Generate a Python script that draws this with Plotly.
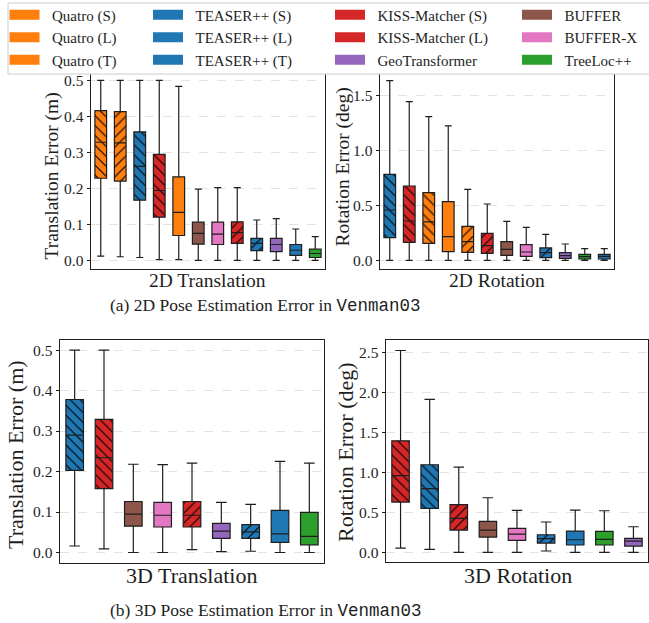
import plotly.graph_objects as go

# ---------------- data ----------------
colors = {
    "Quatro (S)": "#ff7f0e", "Quatro (L)": "#ff7f0e", "Quatro (T)": "#ff7f0e",
    "TEASER++ (S)": "#1f77b4", "TEASER++ (L)": "#1f77b4", "TEASER++ (T)": "#1f77b4",
    "KISS-Matcher (S)": "#d62728", "KISS-Matcher (L)": "#d62728",
    "GeoTransformer": "#9467bd", "BUFFER": "#8c564b", "BUFFER-X": "#e377c2",
    "TreeLoc++": "#2ca02c",
}
legend_cols = [
    ["Quatro (S)", "Quatro (L)", "Quatro (T)"],
    ["TEASER++ (S)", "TEASER++ (L)", "TEASER++ (T)"],
    ["KISS-Matcher (S)", "KISS-Matcher (L)", "GeoTransformer"],
    ["BUFFER", "BUFFER-X", "TreeLoc++"],
]

# 2D translation
m_2dt = ["Quatro (S)", "Quatro (L)", "TEASER++ (S)", "KISS-Matcher (S)", "Quatro (T)", "BUFFER",
         "BUFFER-X", "KISS-Matcher (L)", "TEASER++ (L)", "GeoTransformer", "TEASER++ (T)", "TreeLoc++"]
lo_2dt = [0.012, 0.010, 0.008, 0.002, 0.002, 0.0, 0.0, 0.0, 0.0, 0.0, 0.0, 0.0]
q1_2dt = [0.228, 0.220, 0.167, 0.120, 0.069, 0.045, 0.044, 0.047, 0.027, 0.024, 0.014, 0.008]
md_2dt = [0.328, 0.326, 0.261, 0.194, 0.133, 0.075, 0.073, 0.077, 0.047, 0.044, 0.028, 0.019]
q3_2dt = [0.416, 0.413, 0.357, 0.294, 0.232, 0.106, 0.106, 0.107, 0.061, 0.061, 0.044, 0.031]
hi_2dt = [0.500, 0.500, 0.500, 0.500, 0.483, 0.198, 0.202, 0.202, 0.112, 0.116, 0.087, 0.066]

# 2D rotation
m_2dr = ["TEASER++ (S)", "KISS-Matcher (S)", "Quatro (S)", "Quatro (T)", "Quatro (L)", "KISS-Matcher (L)",
         "BUFFER", "BUFFER-X", "TEASER++ (L)", "GeoTransformer", "TreeLoc++", "TEASER++ (T)"]
lo_2dr = [0.0] * 12
q1_2dr = [0.207, 0.164, 0.155, 0.079, 0.073, 0.064, 0.046, 0.037, 0.024, 0.018, 0.012, 0.012]
md_2dr = [0.459, 0.359, 0.350, 0.216, 0.170, 0.134, 0.100, 0.076, 0.070, 0.043, 0.033, 0.036]
q3_2dr = [0.785, 0.678, 0.618, 0.535, 0.310, 0.246, 0.170, 0.143, 0.113, 0.070, 0.055, 0.055]
hi_2dr = [1.640, 1.448, 1.311, 1.226, 0.648, 0.514, 0.356, 0.301, 0.237, 0.149, 0.106, 0.106]

# 3D translation
m_3dt = ["TEASER++ (S)", "KISS-Matcher (S)", "BUFFER", "BUFFER-X", "KISS-Matcher (L)", "GeoTransformer",
         "TEASER++ (L)", "TEASER++ (T)", "TreeLoc++"]
lo_3dt = [0.016, 0.009, 0.0, 0.0, 0.007, 0.002, 0.003, 0.0, 0.0]
q1_3dt = [0.203, 0.158, 0.065, 0.063, 0.063, 0.035, 0.035, 0.025, 0.019]
md_3dt = [0.290, 0.234, 0.095, 0.092, 0.092, 0.053, 0.051, 0.046, 0.040]
q3_3dt = [0.378, 0.329, 0.126, 0.124, 0.126, 0.072, 0.069, 0.104, 0.099]
hi_3dt = [0.500, 0.500, 0.218, 0.217, 0.221, 0.124, 0.119, 0.225, 0.221]

# 3D rotation
m_3dr = ["KISS-Matcher (S)", "TEASER++ (S)", "KISS-Matcher (L)", "BUFFER", "BUFFER-X", "TEASER++ (L)",
         "TEASER++ (T)", "TreeLoc++", "GeoTransformer"]
lo_3dr = [0.054, 0.037, 0.0, 0.0, 0.0, 0.017, 0.0, 0.0, 0.0]
q1_3dr = [0.628, 0.549, 0.279, 0.191, 0.150, 0.116, 0.092, 0.092, 0.079]
md_3dr = [0.957, 0.795, 0.424, 0.279, 0.229, 0.171, 0.158, 0.162, 0.141]
q3_3dr = [1.393, 1.094, 0.595, 0.387, 0.300, 0.220, 0.266, 0.262, 0.175]
hi_3dr = [2.520, 1.909, 1.065, 0.682, 0.524, 0.379, 0.528, 0.520, 0.320]

panels = [
    dict(m=m_2dt, lo=lo_2dt, q1=q1_2dt, md=md_2dt, q3=q3_2dt, hi=hi_2dt, ax="", title="2D Translation",
         ytitle="Translation Error (m)", ticks=[0.0, 0.1, 0.2, 0.3, 0.4, 0.5], yr=[-0.024, 0.523],
         dom_x=[91, 325], dom_y=[72, 269], fs=19.5, xt=(207.5, 280), yt=(52, 176.5)),
    dict(m=m_2dr, lo=lo_2dr, q1=q1_2dr, md=md_2dr, q3=q3_2dr, hi=hi_2dr, ax="2", title="2D Rotation",
         ytitle="Rotation Error (deg)", ticks=[0.0, 0.5, 1.0, 1.5], yr=[-0.079, 1.718],
         dom_x=[380, 614], dom_y=[72, 269], fs=19.5, xt=(496.5, 280), yt=(343, 167.5)),
    dict(m=m_3dt, lo=lo_3dt, q1=q1_3dt, md=md_3dt, q3=q3_3dt, hi=hi_3dt, ax="3", title="3D Translation",
         ytitle="Translation Error (m)", ticks=[0.0, 0.1, 0.2, 0.3, 0.4, 0.5], yr=[-0.026, 0.525],
         dom_x=[60, 324], dom_y=[340, 563], fs=22, xt=(191.5, 575), yt=(15, 455)),
    dict(m=m_3dr, lo=lo_3dr, q1=q1_3dr, md=md_3dr, q3=q3_3dr, hi=hi_3dr, ax="4", title="3D Rotation",
         ytitle="Rotation Error (deg)", ticks=[0.0, 0.5, 1.0, 1.5, 2.0, 2.5], yr=[-0.12, 2.651],
         dom_x=[386, 648], dom_y=[340, 562], fs=22, xt=(517.5, 575), yt=(345, 452)),
]

W, H = 649, 623
SERIF = "Liberation Serif"
INK = "#1e1e1e"


def hatch(name):
    if name.endswith("(S)"):
        return "\\"
    if name.endswith("(L)"):
        return "/"
    return ""


fig = go.Figure()
layout = {}
annotations = []
for p in panels:
    n = len(p["m"])
    xa, ya = "x" + p["ax"], "y" + p["ax"]
    # box bodies (fill + hatch), one bar per method so each keeps its own pattern colours
    for i, m in enumerate(p["m"]):
        fig.add_trace(go.Bar(
            x=[i], y=[p["q3"][i] - p["q1"][i]], base=[p["q1"][i]], width=0.6,
            marker=dict(color=colors[m], line=dict(width=0),
                        pattern=dict(shape=hatch(m), fillmode="replace", bgcolor=colors[m],
                                     fgcolor="black", fgopacity=1, size=7, solidity=0.16)),
            xaxis=xa, yaxis=ya, showlegend=False, hoverinfo="skip"))
    fig.add_trace(go.Box(
        x=list(range(n)), q1=p["q1"], median=p["md"], q3=p["q3"], lowerfence=p["lo"], upperfence=p["hi"],
        width=0.6, whiskerwidth=0.6, fillcolor="rgba(0,0,0,0)", line=dict(color=INK, width=1.2),
        boxpoints=False, xaxis=xa, yaxis=ya, showlegend=False, hoverinfo="skip"))
    layout["xaxis" + p["ax"]] = dict(
        domain=[p["dom_x"][0] / W, p["dom_x"][1] / W], anchor=ya, range=[-0.5, n - 0.5],
        showticklabels=False, ticks="", showgrid=False, zeroline=False, automargin=False,
        showline=True, mirror=True, linecolor=INK, linewidth=1)
    layout["yaxis" + p["ax"]] = dict(
        domain=[1 - p["dom_y"][1] / H, 1 - p["dom_y"][0] / H], anchor=xa, range=p["yr"],
        tickvals=p["ticks"], tickformat=".1f", ticks="outside", ticklen=3.5, tickcolor=INK,
        tickfont=dict(family=SERIF, size=15.5, color=INK), automargin=False,
        showgrid=True, gridcolor="#e3e3e3", griddash="dash", gridwidth=1, zeroline=False,
        showline=True, mirror=True, linecolor=INK, linewidth=1)
    annotations.append(dict(text=p["title"], x=p["xt"][0] / W, y=1 - p["xt"][1] / H,
                            xref="paper", yref="paper", showarrow=False, xanchor="center",
                            yanchor="middle", font=dict(family=SERIF, size=p["fs"], color=INK)))
    annotations.append(dict(text=p["ytitle"], x=p["yt"][0] / W, y=1 - p["yt"][1] / H, textangle=-90,
                            xref="paper", yref="paper", showarrow=False, xanchor="center",
                            yanchor="middle", font=dict(family=SERIF, size=p["fs"], color=INK)))

# legend-only entries in four columns
legend_x = [4.5, 148, 330, 517]
for ci, col in enumerate(legend_cols):
    lname = "legend" if ci == 0 else "legend%d" % (ci + 1)
    for name in col:
        fig.add_trace(go.Scatter(x=[None], y=[None], mode="lines", name="\u00a0\u00a0" + name,
                                 line=dict(color=colors[name], width=10),
                                 legend=lname, hoverinfo="skip"))
    layout[lname] = dict(x=legend_x[ci] / W, y=1.0 + 1.5 / H, xref="paper", yref="paper",
                         xanchor="left", yanchor="top", bgcolor="rgba(0,0,0,0)", borderwidth=0,
                         itemwidth=30, tracegroupgap=0,
                         font=dict(family=SERIF, size=15, color=INK))

caption_font = dict(family=SERIF, size=17.5, color=INK)
annotations += [
    dict(text='(a) 2D Pose Estimation Error in <span style="font-family:Liberation Mono">Venman03</span>',
         x=265 / W, y=1 - 305 / H, xref="paper", yref="paper", showarrow=False,
         xanchor="center", yanchor="middle", font=caption_font),
    dict(text='(b) 3D Pose Estimation Error in <span style="font-family:Liberation Mono">Venman03</span>',
         x=265 / W, y=1 - 610 / H, xref="paper", yref="paper", showarrow=False,
         xanchor="center", yanchor="middle", font=caption_font),
]

fig.update_layout(**layout)
fig.update_layout(
    template="none",
    width=W, height=H, margin=dict(l=0, r=0, t=0, b=0, autoexpand=False),
    paper_bgcolor="white", plot_bgcolor="white", barmode="overlay", boxmode="overlay",
    shapes=[dict(type="rect", xref="paper", yref="paper", x0=8 / W, x1=1.02, y0=1 - 74 / H, y1=1 - 3 / H,
                 line=dict(color="#cccccc", width=1), fillcolor="white", layer="above")],
    annotations=annotations,
)

fig.write_html("out.html", config={"displayModeBar": False},
               post_script="document.body.style.margin='0px';")
